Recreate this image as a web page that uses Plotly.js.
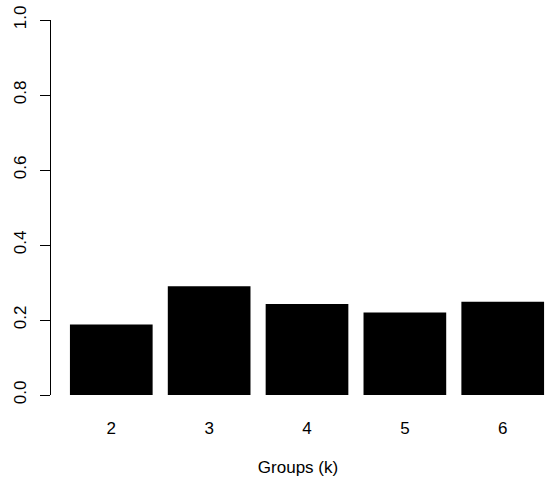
<!DOCTYPE html>
<html>
<head>
<meta charset="utf-8">
<script src="https://cdn.plot.ly/plotly-3.0.1.min.js"></script>
<style>
html,body{margin:0;padding:0;background:#fff;}
#chart{width:545px;height:483px;}
</style>
</head>
<body>
<div id="chart"></div>
<script>
var groups = ["2", "3", "4", "5", "6"];
var values = [0.188, 0.290, 0.243, 0.220, 0.249];
var yTicks = [0, 0.2, 0.4, 0.6, 0.8, 1.0];
var yTickLabels = ["0.0", "0.2", "0.4", "0.6", "0.8", "1.0"];

var trace = {
  type: "bar",
  x: groups,
  y: values,
  width: 0.845,
  marker: {color: "#000000", line: {width: 0}},
  hoverinfo: "skip"
};

var layout = {
  width: 545,
  height: 483,
  margin: {l: 51, r: 0, t: 20, b: 88},
  paper_bgcolor: "#ffffff",
  plot_bgcolor: "#ffffff",
  font: {family: "Liberation Sans, Arial, sans-serif", size: 17, color: "#000000"},
  showlegend: false,
  xaxis: {
    type: "category",
    range: [-0.616, 4.432],
    showline: false,
    showgrid: false,
    zeroline: false,
    ticks: "",
    ticklabelstandoff: 21,
    tickfont: {size: 17},
    title: {text: "Groups (k)", font: {size: 17}, standoff: 24},
    automargin: false,
    fixedrange: true
  },
  yaxis: {
    range: [0, 1],
    tickvals: yTicks,
    ticktext: yTickLabels,
    tickangle: -90,
    ticks: "outside",
    ticklen: 10,
    tickcolor: "#000000",
    tickwidth: 1,
    showline: true,
    linecolor: "#000000",
    linewidth: 1,
    showgrid: false,
    zeroline: false,
    ticklabelstandoff: 7,
    tickfont: {size: 17},
    automargin: false,
    fixedrange: true
  }
};

Plotly.newPlot("chart", [trace], layout, {displayModeBar: false, staticPlot: true});
</script>
</body>
</html>
